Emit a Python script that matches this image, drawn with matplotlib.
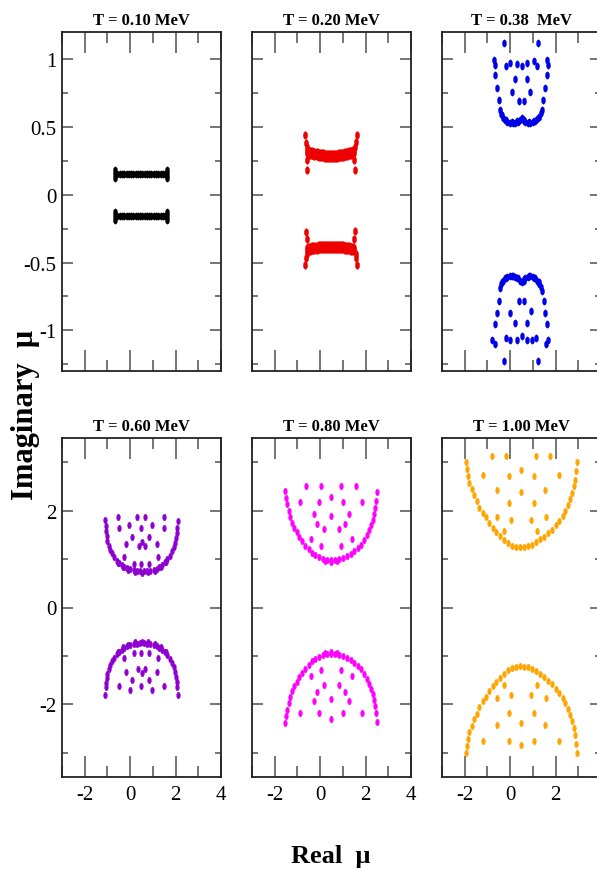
import matplotlib
matplotlib.use("Agg")
import matplotlib.pyplot as plt
from matplotlib.path import Path
from matplotlib.transforms import Affine2D
from matplotlib.ticker import MultipleLocator, FuncFormatter

plt.rcParams['font.family'] = ['Liberation Serif', 'DejaVu Serif']
plt.rcParams['axes.unicode_minus'] = False

# ---------------- data ----------------
TITLES = ["T = 0.10 MeV", "T = 0.20 MeV", "T = 0.38  MeV",
          "T = 0.60 MeV", "T = 0.80 MeV", "T = 1.00 MeV"]
COLORS = ["#000000", "#ee0000", "#0000e6", "#8e00d0", "#ff00ff", "#ffa500"]

# T = 0.10 MeV (black)
T010_RE = [-0.66, -0.56, -0.46, -0.36, -0.26, -0.16, -0.06, 0.04, 0.14, 0.24, 0.34, 0.44,
           0.54, 0.64, 0.74, 0.84, 0.94, 1.04, 1.14, 1.24, 1.34, 1.44, 1.54, 1.61,
           -0.66, -0.66, 1.61, 1.61,
           -0.66, -0.56, -0.46, -0.36, -0.26, -0.16, -0.06, 0.04, 0.14, 0.24, 0.34, 0.44,
           0.54, 0.64, 0.74, 0.84, 0.94, 1.04, 1.14, 1.24, 1.34, 1.44, 1.54, 1.61,
           -0.66, -0.66, 1.61, 1.61]
T010_IM = [0.155, 0.155, 0.155, 0.155, 0.155, 0.155, 0.155, 0.155, 0.155, 0.155, 0.155, 0.155,
           0.155, 0.155, 0.155, 0.155, 0.155, 0.155, 0.155, 0.155, 0.155, 0.155, 0.155, 0.155,
           0.185, 0.125, 0.185, 0.125,
           -0.155, -0.155, -0.155, -0.155, -0.155, -0.155, -0.155, -0.155, -0.155, -0.155, -0.155, -0.155,
           -0.155, -0.155, -0.155, -0.155, -0.155, -0.155, -0.155, -0.155, -0.155, -0.155, -0.155, -0.155,
           -0.125, -0.185, -0.125, -0.185]

# T = 0.20 MeV (red)
T020_BAR_RE = [-0.52, -0.43, -0.34, -0.25, -0.16, -0.07, 0.02, 0.11, 0.20, 0.29, 0.38, 0.47,
               0.56, 0.65, 0.74, 0.83, 0.92, 1.01, 1.10, 1.19, 1.28, 1.37, 1.46]
T020_UP_BAR_IM = [0.315, 0.310, 0.306, 0.302, 0.298, 0.295, 0.293, 0.291, 0.289, 0.288, 0.287, 0.287,
                  0.287, 0.288, 0.289, 0.291, 0.293, 0.295, 0.298, 0.302, 0.306, 0.310, 0.315]
T020_DN_BAR_IM = [-0.400, -0.397, -0.394, -0.392, -0.390, -0.389, -0.388, -0.387, -0.386, -0.386, -0.385, -0.385,
                  -0.385, -0.386, -0.386, -0.387, -0.388, -0.389, -0.390, -0.392, -0.394, -0.397, -0.400]
T020_END_RE = [-0.66, -0.62, -0.59, -0.57, -0.59, 1.61, 1.58, 1.54, 1.49, 1.54,
               -0.62, -0.57, -0.59, -0.62, -0.66, 1.54, 1.50, 1.56, 1.58, 1.61]
T020_END_IM = [0.44, 0.385, 0.35, 0.254, 0.18, 0.44, 0.39, 0.35, 0.254, 0.18,
               -0.276, -0.33, -0.44, -0.47, -0.52, -0.264, -0.33, -0.44, -0.47, -0.52]

# T = 0.38 MeV (blue)
T038_RE = [-0.29, 1.24, -0.72, -0.68, 1.62, 1.67,
           -0.18, 0.0, 0.29, 0.51, 0.73, 1.03, 1.17,
           -0.66, 1.61, 0.22, 0.73, -0.56, 1.54, 0.07, 0.88, -0.51, 1.46, 0.37, 0.59,
           -0.44, -0.40, -0.32, -0.22, -0.12, 0.0, 0.12, 0.23, 0.35, 0.44, 0.51, 0.59, 0.67,
           0.78, 0.88, 1.00, 1.10, 1.20, 1.29, 1.35, 1.39,
           -0.36, -0.17, 0.06, 0.29, 0.63, 0.83, 1.05, 1.25,
           # lower cluster
           -0.44, -0.40, -0.32, -0.22, -0.12, 0.0, 0.12, 0.23, 0.35, 0.44, 0.51, 0.59, 0.67,
           0.78, 0.88, 1.00, 1.10, 1.20, 1.29, 1.35, 1.39,
           -0.36, -0.17, 0.06, 0.29, 0.63, 0.83, 1.05, 1.25,
           -0.47, 1.47, 0.37, 0.62, -0.56, 1.54, 0.0, 0.92, 0.22, 0.76, -0.66, 1.61,
           -0.78, -0.66, 1.68, 1.58,
           -0.18, 0.0, 0.29, 0.51, 0.73, 0.95, 1.14, -0.29, 1.24]
T038_IM = [1.12, 1.12, 0.99, 0.96, 0.99, 0.96,
           0.946, 0.97, 0.965, 0.946, 0.97, 0.983, 0.946,
           0.88, 0.88, 0.85, 0.85, 0.785, 0.785, 0.76, 0.76, 0.70, 0.70, 0.69, 0.69,
           0.625, 0.593, 0.568, 0.551, 0.538, 0.531, 0.526, 0.528, 0.538, 0.553, 0.563, 0.553, 0.538,
           0.528, 0.526, 0.533, 0.543, 0.558, 0.575, 0.60, 0.625,
           0.585, 0.550, 0.535, 0.540, 0.545, 0.535, 0.545, 0.575,
           -0.69, -0.66, -0.634, -0.617, -0.607, -0.602, -0.602, -0.607, -0.617, -0.634, -0.646, -0.634, -0.617,
           -0.607, -0.602, -0.607, -0.617, -0.634, -0.66, -0.684, -0.71,
           -0.645, -0.612, -0.600, -0.612, -0.625, -0.603, -0.612, -0.645,
           -0.783, -0.783, -0.783, -0.783, -0.869, -0.869, -0.869, -0.857, -0.943, -0.943, -0.95, -0.95,
           -1.07, -1.10, -1.07, -1.10,
           -1.054, -1.07, -1.07, -1.042, -1.07, -1.07, -1.054, -1.227, -1.227]

# T = 0.60 MeV (purple)
T060_ARC_RE = [-1.10, -1.08, -1.05, -1.03, -1.00, -0.94, -0.88, -0.81, -0.70, -0.59, -0.47, -0.37,
               -0.26, -0.15, 0.00, 0.15, 0.29, 0.44, 0.59, 0.73, 0.88, 1.03, 1.17, 1.29, 1.41,
               1.52, 1.64, 1.76, 1.85, 1.92, 1.98, 2.02, 2.05, 2.08, 2.10,
               -0.53, -0.32, -0.08, 0.22, 0.52, 0.80, 1.10, 1.35, 1.58]
T060_UP_ARC_IM = [1.81, 1.68, 1.58, 1.48, 1.37, 1.27, 1.19, 1.12, 1.05, 0.97, 0.92, 0.88,
                  0.84, 0.81, 0.79, 0.77, 0.76, 0.75, 0.75, 0.76, 0.76, 0.77, 0.80, 0.84, 0.88,
                  0.93, 1.00, 1.07, 1.16, 1.24, 1.34, 1.44, 1.54, 1.65, 1.79,
                  0.92, 0.83, 0.78, 0.73, 0.72, 0.73, 0.76, 0.83, 0.93]
T060_DN_ARC_IM = [-1.80, -1.64, -1.55, -1.46, -1.37, -1.27, -1.19, -1.11, -1.04, -0.97, -0.91, -0.87,
                  -0.83, -0.80, -0.78, -0.76, -0.75, -0.74, -0.74, -0.75, -0.76, -0.77, -0.79, -0.83, -0.87,
                  -0.92, -0.99, -1.06, -1.15, -1.23, -1.33, -1.43, -1.54, -1.65, -1.80,
                  -0.91, -0.82, -0.77, -0.72, -0.71, -0.72, -0.75, -0.82, -0.92]
T060_IN_RE = [-0.54, 0.31, 0.66, 1.51, -0.51, -0.03, 0.48, 0.98, 1.49, 0.07, 0.81, -0.18, 1.17,
              0.37, 0.51, 0.66, -0.25, 1.22, 0.19, 0.48, 0.81,
              0.15, 0.48, 0.81, -0.26, 1.22, -0.18, 1.17, 0.34, 0.51, 0.66, 0.07, 0.84,
              -0.51, 0.0, 0.48, 0.98, 1.49]
T060_IN_IM = [1.87, 1.87, 1.87, 1.87, 1.64, 1.70, 1.64, 1.70, 1.64, 1.46, 1.46, 1.32, 1.32,
              1.27, 1.36, 1.27, 1.04, 1.04, 0.89, 0.89, 0.89,
              -0.93, -0.93, -0.93, -1.04, -1.04, -1.34, -1.34, -1.27, -1.35, -1.27, -1.49, -1.49,
              -1.63, -1.70, -1.63, -1.70, -1.63]

# T = 0.80 MeV (magenta)
T080_ARC_RE = [-1.54, -1.49, -1.45, -1.39, -1.32, -1.23, -1.13, -1.03, -0.91, -0.78, -0.65, -0.51,
               -0.37, -0.22, -0.06, 0.12, 0.29, 0.47, 0.65, 0.82, 1.00, 1.17, 1.35, 1.51, 1.67,
               1.82, 1.95, 2.07, 2.17, 2.26, 2.33, 2.39, 2.43, 2.46, 2.49, 0.20, 0.47, 0.73]
T080_UP_ARC_IM = [2.41, 2.27, 2.13, 1.99, 1.86, 1.74, 1.64, 1.55, 1.46, 1.37, 1.28, 1.20,
                  1.13, 1.08, 1.04, 1.01, 0.99, 0.985, 0.99, 1.01, 1.03, 1.06, 1.10, 1.16, 1.23,
                  1.30, 1.39, 1.49, 1.59, 1.70, 1.81, 1.93, 2.06, 2.20, 2.38, 0.95, 0.94, 0.95]
T080_DN_ARC_IM = [-2.39, -2.25, -2.11, -1.97, -1.84, -1.72, -1.62, -1.53, -1.44, -1.35, -1.26, -1.18,
                  -1.11, -1.06, -1.02, -0.99, -0.97, -0.965, -0.97, -0.99, -1.01, -1.04, -1.08, -1.14, -1.21,
                  -1.28, -1.37, -1.47, -1.57, -1.68, -1.79, -1.91, -2.04, -2.18, -2.36, -0.93, -0.92, -0.93]
T080_IN_RE = [-0.62, 0.04, 0.91, 1.60, -0.88, -0.03, 0.47, 1.00, 1.85, -0.29, 0.47, 1.25,
              -0.13, 1.11, 0.16, 0.82, -0.42, 1.39, 0.03, 0.94,
              -0.88, -0.03, 0.47, 1.00, 1.85, -0.29, 0.47, 1.25, -0.13, 1.11, 0.16, 0.82,
              -0.42, 1.39, 0.03, 0.94]
T080_IN_IM = [2.50, 2.50, 2.50, 2.50, 2.18, 2.18, 2.28, 2.18, 2.18, 1.93, 1.88, 1.93,
              1.72, 1.72, 1.62, 1.62, 1.42, 1.42, 1.28, 1.28,
              -2.18, -2.18, -2.30, -2.18, -2.18, -1.94, -1.89, -1.94, -1.74, -1.74, -1.61, -1.61,
              -1.41, -1.41, -1.30, -1.30]

# T = 1.00 MeV (orange)
T100_ARC_RE = [-1.93, -1.89, -1.86, -1.79, -1.69, -1.57, -1.47, -1.35, -1.20, -1.05, -0.91, -0.76,
               -0.62, -0.44, -0.26, -0.09, 0.09, 0.26, 0.44, 0.62, 0.79, 0.97, 1.14, 1.32, 1.49,
               1.67, 1.85, 2.02, 2.17, 2.32, 2.43, 2.55, 2.64, 2.73, 2.81, 2.87, 2.90, 2.93]
T100_UP_ARC_IM = [3.00, 2.86, 2.71, 2.57, 2.44, 2.32, 2.20, 2.06, 1.96, 1.86, 1.75, 1.65,
                  1.56, 1.48, 1.39, 1.33, 1.27, 1.25, 1.24, 1.25, 1.26, 1.30, 1.35, 1.41, 1.46,
                  1.53, 1.60, 1.70, 1.79, 1.89, 1.99, 2.11, 2.24, 2.36, 2.50, 2.64, 2.82, 3.00]
T100_DN_ARC_IM = [-3.00, -2.86, -2.71, -2.57, -2.44, -2.31, -2.19, -2.05, -1.94, -1.84, -1.73, -1.63,
                  -1.54, -1.45, -1.37, -1.30, -1.24, -1.22, -1.21, -1.22, -1.23, -1.27, -1.32, -1.38, -1.44,
                  -1.51, -1.58, -1.68, -1.77, -1.87, -1.98, -2.10, -2.23, -2.35, -2.49, -2.63, -2.82, -3.00]
T100_IN_RE = [-0.81, -0.18, 1.14, 1.76, -1.20, -0.07, 0.48, 1.05, 2.17, -0.56, 0.48, 1.54,
              -0.07, 1.03, -0.59, 0.03, 0.92, 1.58, -0.25, 1.20,
              -1.20, -0.07, 0.48, 1.05, 2.17, -0.56, 0.48, 1.54, -0.07, 1.03,
              -0.59, 0.03, 0.92, 1.58, -0.25, 1.20]
T100_IN_IM = [3.13, 3.13, 3.13, 3.13, 2.73, 2.72, 2.84, 2.72, 2.73, 2.43, 2.39, 2.43,
              2.15, 2.15, 1.87, 1.81, 1.81, 1.87, 1.58, 1.58,
              -2.75, -2.75, -2.84, -2.75, -2.75, -2.42, -2.39, -2.42, -2.17, -2.17,
              -1.87, -1.80, -1.80, -1.87, -1.59, -1.59]

# ---------------- figure ----------------
W, H = 597, 879
fig = plt.figure(figsize=(W / 100, H / 100), dpi=100)

col_left = [62, 252, 442]
row_top = [33, 439]
aw, ah = 159, 339

ELL = Path.unit_circle().transformed(Affine2D().scale(0.55, 1.0))

fmt = FuncFormatter(lambda v, p: f"{v:g}")
# last column runs past the right edge of the figure; its "4" label falls outside
fmt_last = FuncFormatter(lambda v, p: "" if v > 3 else f"{v:g}")
axes = []
for r in range(2):
    for c in range(3):
        l = col_left[c] / W
        b = 1 - (row_top[r] + ah) / H
        ax = fig.add_axes([l, b, aw / W, ah / H])
        ax.set_xlim(-3, 4)
        ax.xaxis.set_major_locator(MultipleLocator(2))
        ax.xaxis.set_minor_locator(MultipleLocator(1))
        if r == 0:
            ax.set_ylim(-1.3, 1.2)
            ax.yaxis.set_major_locator(MultipleLocator(0.5))
            ax.yaxis.set_minor_locator(MultipleLocator(0.25))
        else:
            ax.set_ylim(-3.5, 3.5)
            ax.yaxis.set_major_locator(MultipleLocator(2))
            ax.yaxis.set_minor_locator(MultipleLocator(1))
        ax.xaxis.set_major_formatter(fmt_last if c == 2 else fmt)
        ax.yaxis.set_major_formatter(fmt)
        ax.tick_params(axis='both', which='both', direction='in', top=True, right=True,
                       color='#505050', width=1.1, labelsize=15)
        ax.tick_params(axis='x', which='major', length=15, pad=6)
        ax.tick_params(axis='x', which='minor', length=8)
        ax.tick_params(axis='y', which='major', length=8, pad=4)
        ax.tick_params(axis='y', which='minor', length=4.5)
        ax.tick_params(labelbottom=(r == 1), labelleft=(c == 0))
        for s in ax.spines.values():
            s.set_linewidth(1.3)
            s.set_color('#222222')
        ax.set_title(TITLES[r * 3 + c], fontsize=12, fontweight='bold', pad=6)
        axes.append(ax)

def dots(ax, x, y, color, ms=4.8):
    ax.plot(x, y, ls='none', marker=ELL, ms=ms, color=color, mec=color, mew=0.3)

dots(axes[0], T010_RE, T010_IM, COLORS[0], ms=5.2)

dots(axes[1], T020_BAR_RE, T020_UP_BAR_IM, COLORS[1], ms=8.5)
dots(axes[1], T020_BAR_RE, T020_DN_BAR_IM, COLORS[1], ms=8.5)
dots(axes[1], T020_END_RE, T020_END_IM, COLORS[1], ms=5.5)

dots(axes[2], T038_RE, T038_IM, COLORS[2], ms=5.2)

dots(axes[3], T060_ARC_RE, T060_UP_ARC_IM, COLORS[3])
dots(axes[3], T060_ARC_RE, T060_DN_ARC_IM, COLORS[3])
dots(axes[3], T060_IN_RE, T060_IN_IM, COLORS[3])

dots(axes[4], T080_ARC_RE, T080_UP_ARC_IM, COLORS[4])
dots(axes[4], T080_ARC_RE, T080_DN_ARC_IM, COLORS[4])
dots(axes[4], T080_IN_RE, T080_IN_IM, COLORS[4])

dots(axes[5], T100_ARC_RE, T100_UP_ARC_IM, COLORS[5])
dots(axes[5], T100_ARC_RE, T100_DN_ARC_IM, COLORS[5])
dots(axes[5], T100_IN_RE, T100_IN_IM, COLORS[5])

fig.text(25 / W, 1 - 415 / H, "Imaginary  μ", rotation=90, ha='center', va='center',
         fontsize=22, fontweight='bold')
fig.text(331 / W, 1 - 857 / H, "Real  μ", ha='center', va='center',
         fontsize=19, fontweight='bold')

fig.savefig("out.png", dpi=100)
